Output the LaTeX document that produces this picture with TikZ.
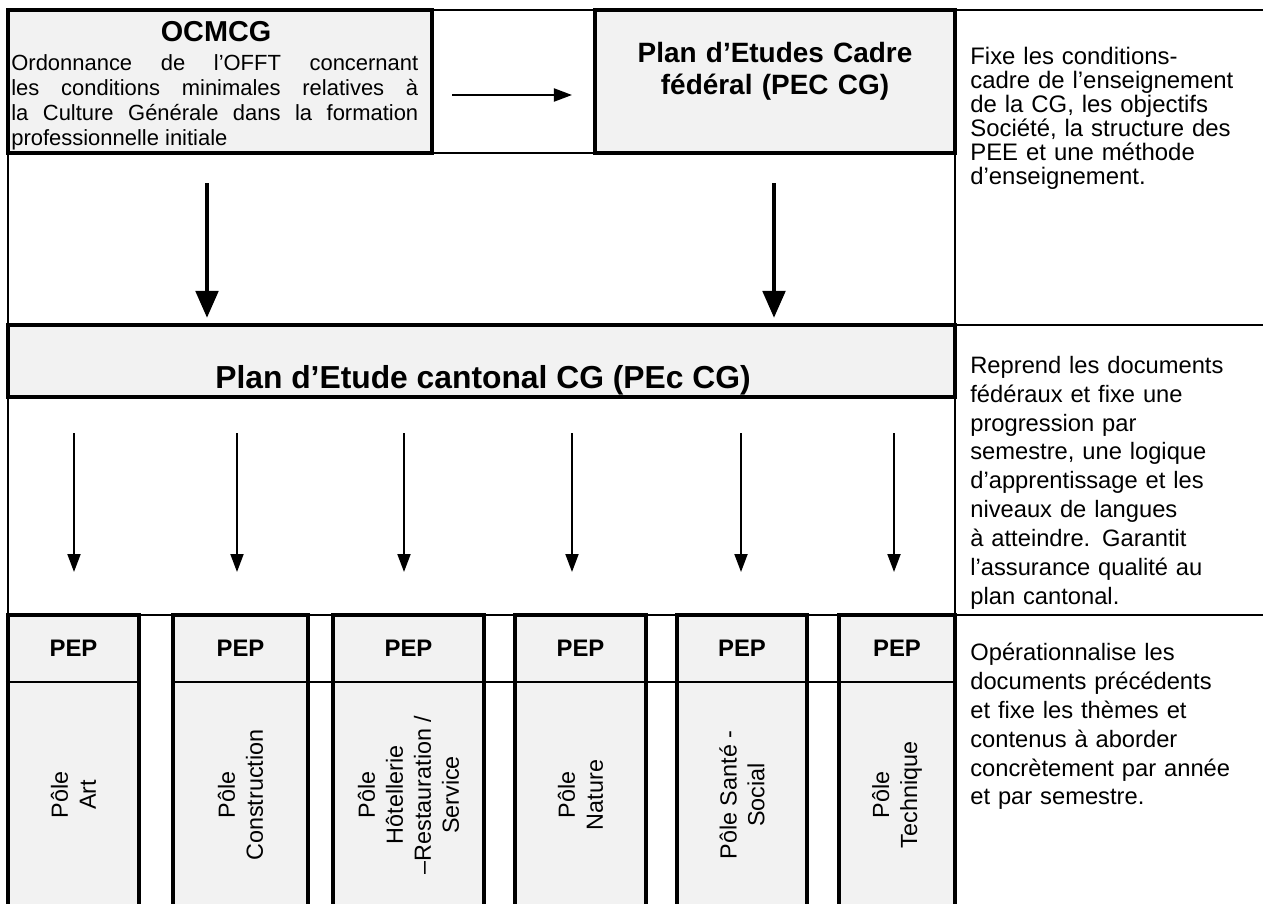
\documentclass[tikz,border=0pt]{standalone}
\usepackage{fontspec}
\setmainfont{Liberation Sans}
\usetikzlibrary{arrows.meta,fit,positioning}
\definecolor{cellgray}{HTML}{F2F2F2}

\begin{document}
\begin{tikzpicture}
    [x=0.02cm, y=-0.02cm, every node/.style={inner sep=0pt},
     tableline/.style={line width=1.1pt},
     pbox/.style={draw, line width=2.3pt, fill=cellgray, inner sep=0pt},
     bigarrow/.style={line width=2.8pt, -{Triangle[length=0.54cm,width=0.44cm]}},
     smallarrow/.style={line width=1.1pt, -{Triangle[length=0.36cm,width=0.26cm]}},
     note/.style={anchor=north west, align=left, text width=5.86cm}]
    \clip (0,0) rectangle (1263,903);
    \draw[tableline] (8,10) -- (1270,10);
    \draw[tableline] (8,10) -- (8,910);
    \draw[tableline] (955,10) -- (955,910);
    \draw[tableline] (8,153) -- (955,153);
    \draw[tableline] (8,325) -- (1270,325);
    \draw[tableline] (8,615) -- (1270,615);

    \node[pbox, fit={(8,10) (432,153)}] (ocmcg) {};
    \node[font=\bfseries\fontsize{16.4}{18}\selectfont] (ocmcgtitle) at (216,32) {OCMCG};
    \node[anchor=north west, text width=8.14cm, align=justify,
          font=\fontsize{12.5}{14.2}\selectfont] (ocmcgtext) at (11,54)
        {Ordonnance de l’OFFT concernant\linebreak les conditions minimales relatives à\linebreak la Culture Générale dans la formation\linebreak professionnelle initiale};
    \node[pbox, fit={(595,10) (955,153)}, align=center,
          font=\bfseries\fontsize{15.9}{18.1}\selectfont] (pec)
        {Plan d’Etudes Cadre\\fédéral (PEC CG)};
    \node[pbox, fit={(8,325) (955,397)}] (cantonal) {};
    \node[font=\bfseries\fontsize{18.1}{20}\selectfont] (cantonaltext) at (483,380)
        {Plan d’Etude cantonal CG (PEc CG)};

    \coordinate (left) at (207,0);
    \coordinate (right) at (774,0);
    \coordinate (mid) at (0,95);
    \draw[smallarrow, shorten <=0.36cm, shorten >=0.42cm] (ocmcg.east |- mid) -- (pec.west |- mid);
    \draw[bigarrow, shorten <=0.56cm, shorten >=0.1cm] (ocmcg.south -| left) -- (cantonal.north -| left);
    \draw[bigarrow, shorten <=0.56cm, shorten >=0.1cm] (pec.south -| right) -- (cantonal.north -| right);

    \foreach \i/\xa/\xb/\ax/\lbl in {1/8/139/74/{Pôle\\Art},
                                     2/173/308/237/{Pôle\\Construction},
                                     3/333/484/404/{Pôle\\Hôtellerie\\–Restauration /\\Service},
                                     4/515/646/572/{Pôle\\Nature},
                                     5/677/807/741/{Pôle Santé -\\Social},
                                     6/839/955/894/{Pôle\\Technique}}{
        \node[pbox, fit={(\xa,615) (\xb,920)}] (col\i) {};
        \node[font=\bfseries\fontsize{13.6}{15}\selectfont] (pep\i) at ([yshift=-0.7cm]col\i.north) {PEP};
        \node[rotate=90, align=center, font=\fontsize{13.3}{15.9}\selectfont] (pole\i)
            at ([yshift=-3.64cm]col\i.north) {\lbl};
        \coordinate (t\i) at (\ax,0);
        \draw[smallarrow, shorten <=0.68cm, shorten >=0.82cm] (cantonal.south -| t\i) -- (col\i.north -| t\i);
    }
    \draw[tableline] (col1.west |- 0,682) -- (col1.east |- 0,682);
    \draw[tableline] (col2.west |- 0,682) -- (955,682);

    \node[note, font=\fontsize{13.6}{13.6}\selectfont] (fixe) at (970,47)
        {Fixe les conditions-\\cadre de l’enseignement\\de la CG, les objectifs\\Société, la structure des\\PEE et une méthode\\d’enseignement.};
    \node[note, font=\fontsize{13.5}{16.4}\selectfont] (reprend) at (970,356)
        {Reprend les documents\\fédéraux et fixe une\\progression par\\semestre, une logique\\d’apprentissage et les\\niveaux de langues\\à atteindre. Garantit\\l’assurance qualité au\\plan cantonal.};
    \node[note, font=\fontsize{13.5}{16.4}\selectfont] (operation) at (970,643)
        {Opérationnalise les\\documents précédents\\et fixe les thèmes et\\contenus à aborder\\concrètement par année\\et par semestre.};
\end{tikzpicture}
\end{document}
